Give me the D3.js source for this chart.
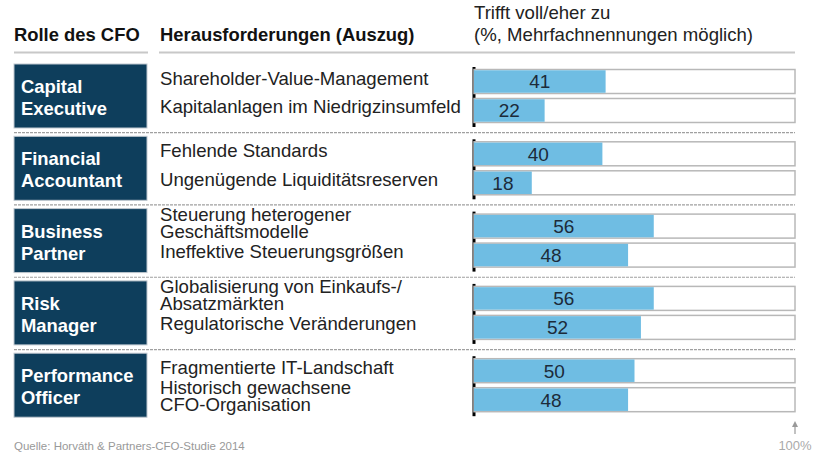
<!doctype html>
<html lang="de">
<head>
  <meta charset="UTF-8">
  <title>Rolle des CFO</title>
  <script src="https://d3js.org/d3.v7.min.js"></script>
  <style>
    body { margin: 0; background: #fff; }
    text { font-family: "Liberation Sans", Arial, sans-serif; }
  </style>
</head>
<body>
  <script>

    var roles = [["Capital", "Executive"], ["Financial", "Accountant"], ["Business", "Partner"], ["Risk", "Manager"], ["Performance", "Officer"]];

    var challenges = [
      [["Shareholder-Value-Management"], ["Kapitalanlagen im Niedrigzinsumfeld"]],
      [["Fehlende Standards"], ["Ungenügende Liquiditätsreserven"]],
      [["Steuerung heterogener", "Geschäftsmodelle"], ["Ineffektive Steuerungsgrößen"]],
      [["Globalisierung von Einkaufs-/", "Absatzmärkten"], ["Regulatorische Veränderungen"]],
      [["Fragmentierte IT-Landschaft"], ["Historisch gewachsene", "CFO-Organisation"]]
    ];

    var values = [[41, 22], [40, 18], [56, 48], [56, 52], [50, 48]];

    var headers = ["Rolle des CFO", "Herausforderungen (Auszug)"];
    var valueHeader = ["Trifft voll/eher zu", "(%, Mehrfachnennungen möglich)"];
    var source = "Quelle: Horváth & Partners-CFO-Studie 2014";

    var width = 820, height = 460;

    var svg = d3.select("body").append("svg")
      .attr("width", width)
      .attr("height", height);

    var groupY = d3.scaleBand()
      .domain(d3.range(roles.length))
      .range([64, 64 + 72.3 * 5 - 8.3])
      .paddingInner(8.3 / 72.3);

    var itemY = d3.scaleBand()
      .domain([0, 1])
      .range([0, groupY.bandwidth()])
      .paddingInner(5 / 29)
      .paddingOuter(0.19);

    var x = d3.scaleLinear().domain([0, 100]).range([474, 795]);

    // headers
    svg.append("text").attr("x", 14).attr("y", 41)
      .attr("font-size", 18.4).attr("font-weight", "bold").attr("fill", "#111")
      .text(headers[0]);
    svg.append("text").attr("x", 160).attr("y", 41)
      .attr("font-size", 18.4).attr("font-weight", "bold").attr("fill", "#111")
      .text(headers[1]);
    svg.selectAll(".vh").data(valueHeader).enter().append("text")
      .attr("x", 474).attr("y", function(d, i) { return 19 + i * 22; })
      .attr("font-size", 18.6).attr("fill", "#222")
      .text(function(d) { return d; });

    svg.append("line").attr("x1", 14).attr("x2", 148).attr("y1", 52.5).attr("y2", 52.5)
      .attr("stroke", "#c8c8c8").attr("stroke-width", 2);
    svg.append("line").attr("x1", 159).attr("x2", 795).attr("y1", 52.5).attr("y2", 52.5)
      .attr("stroke", "#c8c8c8").attr("stroke-width", 2);

    // separators between groups
    svg.selectAll(".sep").data(d3.range(1, roles.length)).enter().append("line")
      .attr("x1", 14).attr("x2", 795)
      .attr("y1", function(d) { return groupY(d) - groupY.step() * groupY.paddingInner() / 2 + 0.5; })
      .attr("y2", function(d) { return groupY(d) - groupY.step() * groupY.paddingInner() / 2 + 0.5; })
      .attr("stroke", "#a0a0a0").attr("stroke-width", 1.2)
      .attr("stroke-dasharray", "3,1");

    var groups = svg.selectAll(".group").data(roles).enter().append("g")
      .attr("transform", function(d, i) { return "translate(0," + groupY(i) + ")"; });

    groups.append("rect")
      .attr("x", 14).attr("y", 0)
      .attr("width", 133).attr("height", groupY.bandwidth())
      .attr("fill", "#0e3e5c").attr("stroke", "#c0c8d0").attr("stroke-width", 1);

    groups.append("text")
      .attr("x", 21).attr("font-size", 18.4).attr("font-weight", "bold").attr("fill", "#fff")
      .selectAll("tspan").data(function(d) { return d; }).enter().append("tspan")
      .attr("x", 21)
      .attr("y", function(d, i) { return 29 + i * 22; })
      .text(function(d) { return d; });

    // axis line
    groups.append("line")
      .attr("x1", 474).attr("x2", 474)
      .attr("y1", 3).attr("y2", groupY.bandwidth() - 1)
      .attr("stroke", "#000").attr("stroke-width", 3);

    groups.each(function(role, gi) {
      var g = d3.select(this);
      var items = g.selectAll(".item").data(values[gi]).enter().append("g")
        .attr("transform", function(d, i) { return "translate(0," + itemY(i) + ")"; });

      items.append("rect")
        .attr("x", x(0)).attr("y", 0)
        .attr("width", x(100) - x(0)).attr("height", itemY.bandwidth())
        .attr("fill", "#fff").attr("stroke", "#b8b8b8").attr("stroke-width", 1.5);

      items.append("rect")
        .attr("x", x(0)).attr("y", 0.75)
        .attr("width", function(d) { return x(d) - x(0); })
        .attr("height", itemY.bandwidth() - 1.5)
        .attr("fill", "#6fbde3");

      items.append("text")
        .attr("x", function(d) { return (x(0) + x(d)) / 2; })
        .attr("y", itemY.bandwidth() / 2 + 7)
        .attr("text-anchor", "middle")
        .attr("font-size", 19).attr("fill", "#1c2b3a")
        .text(function(d) { return d; });

      items.append("text")
        .attr("font-size", 18.6).attr("fill", "#222")
        .selectAll("tspan").data(function(d, i) { return challenges[gi][i]; }).enter().append("tspan")
        .attr("x", 160)
        .attr("y", function(d, i, nodes) {
          var n = nodes.length;
          if (n === 1) return itemY.bandwidth() / 2 + 3;
          return itemY.bandwidth() / 2 + 3 - 8.5 + i * 17;
        })
        .text(function(d) { return d; });
    });

    // footer
    svg.append("text").attr("x", 14).attr("y", 450)
      .attr("font-size", 11.5).attr("fill", "#999")
      .text(source);

    svg.append("line").attr("x1", x(100)).attr("x2", x(100))
      .attr("y1", 424).attr("y2", 434)
      .attr("stroke", "#999").attr("stroke-width", 1.2);
    svg.append("path")
      .attr("d", "M" + (x(100) - 3) + ",427 L" + x(100) + ",421 L" + (x(100) + 3) + ",427 Z")
      .attr("fill", "#999");
    svg.append("text").attr("x", x(100)).attr("y", 450)
      .attr("text-anchor", "middle")
      .attr("font-size", 13).attr("fill", "#aaa")
      .text("100%");

  </script>
</body>
</html>
